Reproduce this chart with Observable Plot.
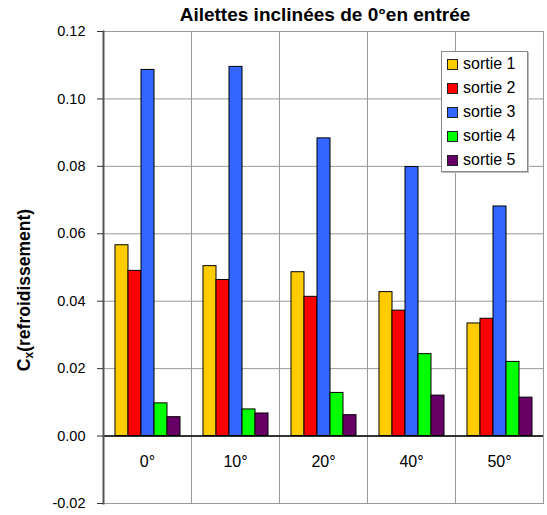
<!DOCTYPE html>
<html>
<head>
<meta charset="utf-8">
<script src="https://cdn.jsdelivr.net/npm/d3@7"></script>
<script src="https://cdn.jsdelivr.net/npm/@observablehq/plot@0.6"></script>
<style>
  body { margin: 0; background: white; font-family: "Liberation Sans", Arial, sans-serif; }
  #wrap { position: relative; width: 547px; height: 515px; overflow: hidden; }
  #title { height: 24px; line-height: 30px; font-weight: bold; font-size: 19px; position: relative; left: 125px; width: 400px; text-align: center; white-space: nowrap; }
  #ytitle { position: absolute; left: 25px; top: 290px; transform: translate(-50%, -50%) rotate(-90deg); white-space: nowrap; font-weight: bold; font-size: 17.5px; }
  #ytitle sub { font-size: 12px; vertical-align: -3px; }
  #legend { position: absolute; left: 441px; top: 51px; width: 85px; height: 119px; border: 1px solid #888; background: white; box-shadow: 1px 1px 0 #bbb; }
  .lrow { height: 24px; line-height: 24px; font-size: 16px; display: flex; align-items: center; padding-left: 5px; }
  .lsw { width: 9px; height: 9px; border: 1px solid #222; margin-right: 5px; }
</style>
</head>
<body>
<div id="wrap">
  <div id="title">Ailettes inclinées de 0°en entrée</div>
  <div id="chart"></div>
  <div id="ytitle">C<sub>x</sub>(refroidissement)</div>
  <div id="legend"></div>
</div>
<script>
const categories = ["0°", "10°", "20°", "40°", "50°"];
const series = ["sortie 1", "sortie 2", "sortie 3", "sortie 4", "sortie 5"];
const colors = ["#ffcc00", "#ff0000", "#3366ff", "#00ff00", "#660066"];
const sortie1 = [0.0566, 0.0504, 0.0486, 0.0427, 0.0334];
const sortie2 = [0.0490, 0.0463, 0.0413, 0.0372, 0.0348];
const sortie3 = [0.1086, 0.1095, 0.0883, 0.0798, 0.0681];
const sortie4 = [0.0097, 0.0079, 0.0128, 0.0243, 0.0220];
const sortie5 = [0.0056, 0.0067, 0.0062, 0.0120, 0.0114];
const yTicks = [-0.02, 0, 0.02, 0.04, 0.06, 0.08, 0.10, 0.12];

const values = [sortie1, sortie2, sortie3, sortie4, sortie5];
const table = series.flatMap((s, i) => categories.map((c, j) => ({cat: c, series: s, value: values[i][j]})));
const fmt = d3.format(".2f");

const chart = Plot.plot({
  width: 547,
  height: 491,
  marginLeft: 101,
  marginRight: 3,
  marginTop: 7,
  marginBottom: 12,
  fx: {domain: categories, padding: 0, axis: null},
  x: {domain: series, paddingInner: 0, paddingOuter: 0.73, axis: null},
  y: {domain: [-0.02, 0.12], axis: null},
  color: {domain: series, range: colors},
  style: {fontFamily: "'Liberation Sans', Arial, sans-serif", fontSize: "14.5px", color: "black", background: "white"},
  marks: [
    Plot.gridY(yTicks, {stroke: "#999", strokeOpacity: 1}),
    Plot.frame({stroke: "#999", strokeOpacity: 1}),
    Plot.barY(table, {fx: "cat", x: "series", y: "value", fill: "series", stroke: "black", strokeWidth: 1}),
    Plot.ruleY([0], {stroke: "black", strokeWidth: 1.5}),
    Plot.text(categories, {fx: d => d, y: -0.0078, text: d => d, fontSize: 16, fill: "black"}),
    Plot.frame({anchor: "left", stroke: "#555", strokeWidth: 2, facetAnchor: "left"}),
    Plot.axisY(yTicks, {tickFormat: d => fmt(d).replace("\u2212", "-"), tickSize: 6, tickPadding: 12, fontSize: 14.5, label: null, stroke: "#333"})
  ]
});
document.getElementById("chart").appendChild(chart);

const legend = d3.select("#legend");
series.forEach((s, i) => {
  const row = legend.append("div").attr("class", "lrow");
  row.append("div").attr("class", "lsw").style("background", colors[i]);
  row.append("span").text(s);
});
</script>
</body>
</html>
